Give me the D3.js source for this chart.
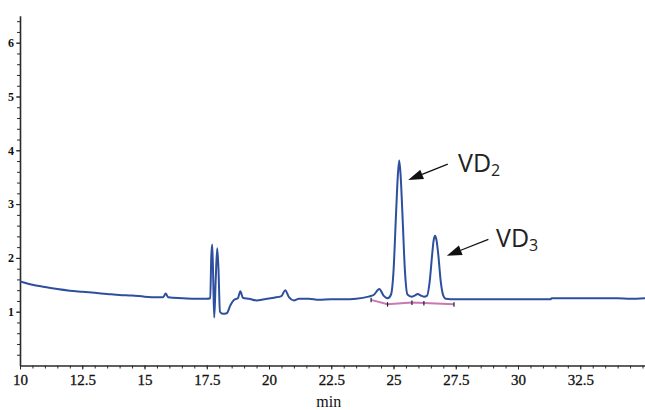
<!DOCTYPE html>
<html>
<head>
<meta charset="utf-8">
<title>Chromatogram VD2 / VD3</title>
<style>
  body { margin: 0; background: #fff; }
  .serif text, text.serif { font-family: "Liberation Serif", "Times New Roman", serif; }
</style>
</head>
<body>
<svg width="645" height="410"></svg>
<script src="https://d3js.org/d3.v7.min.js"></script>
<script>
// retention time (min) and detector signal
var times = [10.0, 10.5, 11.0, 11.5, 12.0, 12.5, 13.0, 13.5, 14.0, 14.5, 15.0, 15.5, 15.75, 15.85, 15.95,
  16.5, 17.0, 17.5, 17.64, 17.68, 17.72, 17.76, 17.80, 17.86, 17.92, 17.97, 18.03, 18.15, 18.3, 18.45, 18.6,
  18.75, 18.85, 18.95, 19.2, 19.5, 19.8, 20.2, 20.5, 20.65, 20.8, 21.0, 21.2, 21.6, 22.0, 22.5, 23.0, 23.5,
  24.0, 24.2, 24.43, 24.6, 24.77, 24.9, 25.0, 25.1, 25.17, 25.23, 25.29, 25.36, 25.46, 25.56, 25.73,
  25.85, 25.97, 26.1, 26.22, 26.35, 26.45, 26.55, 26.61, 26.67, 26.73, 26.8, 26.9, 27.0, 27.1, 27.5,
  28.0, 29.0, 30.0, 31.0, 31.3, 31.35, 32.0, 33.0, 34.0, 34.5, 35.1];
var signal = [1.56, 1.50, 1.46, 1.42, 1.39, 1.37, 1.35, 1.33, 1.31, 1.30, 1.28, 1.27, 1.27, 1.34, 1.27,
  1.25, 1.24, 1.24, 1.25, 2.0, 2.25, 1.6, 0.89, 1.6, 2.18, 1.8, 1.0, 0.96, 0.97, 1.12, 1.22,
  1.25, 1.38, 1.26, 1.24, 1.21, 1.23, 1.26, 1.29, 1.40, 1.27, 1.21, 1.24, 1.24, 1.22, 1.23, 1.23, 1.24,
  1.28, 1.31, 1.42, 1.30, 1.25, 1.32, 1.75, 2.8, 3.5, 3.81, 3.5, 2.8, 1.75, 1.32, 1.28,
  1.30, 1.33, 1.30, 1.28, 1.30, 1.55, 2.05, 2.32, 2.41, 2.32, 2.05, 1.55, 1.30, 1.24, 1.23,
  1.23, 1.23, 1.23, 1.23, 1.23, 1.25, 1.25, 1.25, 1.25, 1.24, 1.25];

// integration baseline (pink) with its drop marks
var baseTimes = [24.1, 24.76, 25.74, 26.22, 27.43];
var baseValues = [1.22, 1.14, 1.17, 1.16, 1.14];

var xTicks = [10, 12.5, 15, 17.5, 20, 22.5, 25, 27.5, 30, 32.5];
var yTicks = [1, 2, 3, 4, 5, 6];

// peak labels: arrow from (t0, v0) to tip (t1, v1)
var labels = [
  { name: "VD", sub: "2", t0: 27.18, v0: 3.744, t1: 25.59, v1: 3.45, tx: 458, ty: 172 },
  { name: "VD", sub: "3", t0: 28.81, v0: 2.344, t1: 27.14, v1: 2.04, tx: 496, ty: 247 }
];

var svg = d3.select("svg");
var x = d3.scaleLinear().domain([10, 35.1]).range([20, 645]);
var y = d3.scaleLinear().domain([0, 6.5]).range([365.5, 15.8]);

var axisColor = "#2a2a2a";

// minor ticks
svg.append("g")
  .attr("transform", "translate(0,365.5)")
  .call(d3.axisBottom(x).tickValues(d3.range(10.5, 35.1, 0.5)).tickSize(3).tickFormat(""))
  .call(function(g) { g.select(".domain").remove(); g.selectAll("line").attr("stroke", axisColor); });
svg.append("g")
  .attr("transform", "translate(20,0)")
  .call(d3.axisLeft(y).tickValues(d3.range(0.2, 6.5, 0.2)).tickSize(3).tickFormat(""))
  .call(function(g) { g.select(".domain").remove(); g.selectAll("line").attr("stroke", axisColor); });

// x axis
svg.append("g")
  .attr("class", "serif")
  .attr("transform", "translate(0,365.5)")
  .call(d3.axisBottom(x).tickValues(xTicks).tickSize(4).tickPadding(5).tickSizeOuter(0).tickFormat(d3.format("")))
  .attr("font-size", 15)
  .call(function(g) {
    g.select(".domain").attr("stroke", axisColor).attr("stroke-width", 1.6);
    g.selectAll("line").attr("stroke", axisColor);
    g.selectAll("text").attr("fill", "#111").attr("stroke", "#111").attr("stroke-width", 0.3);
  });

// y axis
svg.append("g")
  .attr("class", "serif")
  .attr("transform", "translate(20,0)")
  .call(d3.axisLeft(y).tickValues(yTicks).tickSize(4).tickPadding(2).tickSizeOuter(0).tickFormat(d3.format("d")))
  .attr("font-size", 12).attr("font-weight", "bold")
  .call(function(g) {
    g.select(".domain").attr("stroke", axisColor).attr("stroke-width", 1.6);
    g.selectAll("line").attr("stroke", axisColor);
    g.selectAll("text").attr("fill", "#111");
  });

svg.append("text")
  .attr("class", "serif")
  .attr("x", x(22.4)).attr("y", 407)
  .attr("text-anchor", "middle")
  .attr("font-size", 16)
  .attr("fill", "#111")
  .text("min");

// integration baseline
var basePts = baseTimes.map(function(t, i) { return [t, baseValues[i]]; });
svg.append("path")
  .datum(basePts)
  .attr("fill", "none")
  .attr("stroke", "#c978b4")
  .attr("stroke-width", 2)
  .attr("d", d3.line().x(function(d) { return x(d[0]); }).y(function(d) { return y(d[1]); }));
svg.selectAll(".mark")
  .data(basePts)
  .enter().append("line")
  .attr("x1", function(d) { return x(d[0]); })
  .attr("x2", function(d) { return x(d[0]); })
  .attr("y1", function(d) { return y(d[1]) - 2; })
  .attr("y2", function(d) { return y(d[1]) + 2.5; })
  .attr("stroke", "#222").attr("stroke-width", 1.2);

// trace
var pts = times.map(function(t, i) { return [t, signal[i]]; });
svg.append("path")
  .datum(pts)
  .attr("fill", "none")
  .attr("stroke", "#2d4f9e")
  .attr("stroke-width", 2)
  .attr("stroke-linejoin", "round")
  .attr("d", d3.line().curve(d3.curveMonotoneX).x(function(d) { return x(d[0]); }).y(function(d) { return y(d[1]); }));

// annotations
labels.forEach(function(l) {
  var x0 = x(l.t0), y0 = y(l.v0), x1 = x(l.t1), y1 = y(l.v1);
  var a = Math.atan2(y1 - y0, x1 - x0);
  var len = 15, half = 5;
  var bx = x1 - len * Math.cos(a), by = y1 - len * Math.sin(a);
  svg.append("line")
    .attr("x1", x0).attr("y1", y0)
    .attr("x2", bx).attr("y2", by)
    .attr("stroke", "#111").attr("stroke-width", 1.3);
  svg.append("path")
    .attr("d", "M" + x1 + "," + y1 +
      "L" + (bx + half * Math.sin(a)) + "," + (by - half * Math.cos(a)) +
      "L" + (bx - half * Math.sin(a)) + "," + (by + half * Math.cos(a)) + "Z")
    .attr("fill", "#111");
  var t = svg.append("text")
    .attr("x", l.tx).attr("y", l.ty)
    .attr("fill", "#222")
    .style("font-family", "'Open Sans', sans-serif").style("font-size", "25px");
  t.append("tspan").text(l.name);
  t.append("tspan").attr("dy", 4).style("font-size", "16px").text(l.sub);
});
</script>
</body>
</html>
